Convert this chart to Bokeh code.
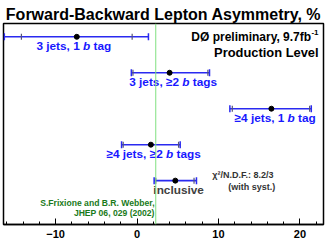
import numpy as np
from bokeh.plotting import figure
from bokeh.models import Range1d, Span, FixedTicker, ColumnDataSource
from bokeh.embed import file_html
from bokeh.resources import INLINE
from bokeh.core.properties import value

# ---- data ----
categories = ["3 jets, 1 b tag", "3 jets, \u22652 b tags", "\u22654 jets, 1 b tag",
              "\u22654 jets, \u22652 b tags", "inclusive"]
label_pre = ["3 jets, 1", "3 jets, \u22652", "\u22654 jets, 1", "\u22654 jets, \u22652", "inclusive"]
label_post = ["tag", "tags", "tag", "tags", ""]
afb = [-7.4, 4.0, 16.5, 1.7, 4.7]
tot_lo = [-16.3, -0.7, 11.4, -1.9, 2.1]
tot_hi = [1.4, 8.9, 21.4, 5.3, 7.3]
stat_lo = [-14.2, -0.5, 11.7, -1.7, 2.3]
stat_hi = [-0.6, 8.7, 21.2, 5.1, 7.0]
prediction = 2.3
x_ticks = [-10, 0, 10, 20]
x_minor = list(range(-16, 23, 2))

FONT = value("Liberation Sans")
BLUE = "#2a2af0"
TXTBLUE = "#1818ff"

ypos = list(range(len(categories)))

p = figure(width=327, height=250, output_backend="svg", toolbar_location=None,
           x_range=Range1d(-16.4, 22.9), y_range=Range1d(5.22, -0.37),
           min_border_left=3, min_border_right=4, min_border_top=23, min_border_bottom=26,
           background_fill_color="white", border_fill_color="white")

p.title.text = "Forward-Backward Lepton Asymmetry, %"
p.title.align = "center"
p.title.text_font = "Liberation Sans"
p.title.text_font_size = "16px"
p.title.text_font_style = "bold"
p.title.text_color = "black"
p.title.standoff = 2

p.outline_line_color = "black"
p.outline_line_width = 1.5
p.xgrid.visible = False
p.ygrid.visible = False
p.yaxis.visible = False

ax = p.xaxis[0]
ax.ticker = FixedTicker(ticks=x_ticks, minor_ticks=x_minor)
ax.major_tick_in = 6
ax.major_tick_out = 0
ax.minor_tick_in = 3
ax.minor_tick_out = 0
ax.axis_line_width = 1.5
ax.major_tick_line_width = 1
ax.minor_tick_line_width = 1
ax.major_label_text_font = "Liberation Sans"
ax.major_label_text_font_size = "11px"
ax.major_label_text_font_style = "bold"
ax.major_label_text_color = "black"
ax.major_label_standoff = 5

p.add_layout(Span(location=prediction, dimension="height", line_color="#80e080", line_width=1))

src = ColumnDataSource(dict(y=ypos, afb=afb, tlo=tot_lo, thi=tot_hi, slo=stat_lo, shi=stat_hi))
p.segment(x0="tlo", x1="thi", y0="y", y1="y", source=src, line_color=BLUE, line_width=1.6)
p.scatter(x="tlo", y="y", source=src, marker="dash", angle=np.pi / 2, size=7, line_color=BLUE, line_width=1.5)
p.scatter(x="thi", y="y", source=src, marker="dash", angle=np.pi / 2, size=7, line_color=BLUE, line_width=1.5)
p.scatter(x="slo", y="y", source=src, marker="dash", angle=np.pi / 2, size=6, line_color="#555577", line_width=1.2)
p.scatter(x="shi", y="y", source=src, marker="dash", angle=np.pi / 2, size=6, line_color="#555577", line_width=1.2)
p.scatter(x="afb", y="y", source=src, size=5, fill_color="black", line_color="black")

# ---- category labels with italic b ----
CW = {' ': .278, 'j': .278, 'e': .556, 't': .333, 's': .556, ',': .278, '\u2265': .549,
      'a': .556, 'g': .611, 'b': .611}
def tw(s, fs):
    return sum(CW.get(c, .556) for c in s) * fs

fs = 11.8
label_dx = [-3, 3.5, 3.8, 2.7, 3.3]
for i in range(len(categories)):
    pre, post = label_pre[i], label_post[i]
    col = TXTBLUE if post else "#404040"
    if not post:
        p.text(x=[afb[i]], y=[ypos[i]], text=[pre], x_offset=label_dx[i], y_offset=9,
               text_align="center", text_baseline="middle", text_font=FONT,
               text_font_size=f"{fs}px", text_font_style="bold", text_color=col)
        continue
    wpre, wsp, wb, wpost = tw(pre, fs), tw(' ', fs), tw('b', fs), tw(post, fs)
    total = wpre + 2 * wsp + wb + wpost
    left = label_dx[i] - total / 2
    p.text(x=[afb[i]], y=[ypos[i]], text=[pre], x_offset=left + wpre, y_offset=9,
           text_align="right", text_baseline="middle", text_font=FONT,
           text_font_size=f"{fs}px", text_font_style="bold", text_color=col)
    p.text(x=[afb[i]], y=[ypos[i]], text=["b"], x_offset=left + wpre + wsp, y_offset=9,
           text_align="left", text_baseline="middle", text_font=FONT,
           text_font_size=f"{fs}px", text_font_style="bold italic", text_color=col)
    p.text(x=[afb[i]], y=[ypos[i]], text=[post], x_offset=left + wpre + 2 * wsp + wb, y_offset=9,
           text_align="left", text_baseline="middle", text_font=FONT,
           text_font_size=f"{fs}px", text_font_style="bold", text_color=col)

# ---- other annotations ----
def note(x, y, t, size, style="bold", color="black", align="left", dx=0, dy=0):
    p.text(x=[x], y=[y], text=[t], x_offset=dx, y_offset=dy, text_align=align,
           text_baseline="middle", text_font=FONT, text_font_size=size,
           text_font_style=style, text_color=color)

note(22.3, 0.0, "D\u00d8 preliminary, 9.7fb", "12px", align="right", dx=-7.5)
note(22.3, 0.0, "-1", "8px", align="left", dx=-7.2, dy=-4)
note(22.3, 0.45, "Production Level", "12.9px", align="right")
note(13.0, 3.85, "\u03c7\u00b2/N.D.F.: 8.2/3", "9px", style="bold", color="#333333", align="center")
note(14.1, 4.19, "(with syst.)", "9px", style="bold", color="#333333", align="center")
note(2.16, 4.61, "S.Frixione and B.R. Webber,", "8.6px", style="bold", color="#1a7a1a", align="right")
note(2.16, 4.89, "JHEP 06, 029 (2002)", "8.6px", style="bold", color="#1a7a1a", align="right")

open("out.html", "w").write(file_html(p, INLINE))
